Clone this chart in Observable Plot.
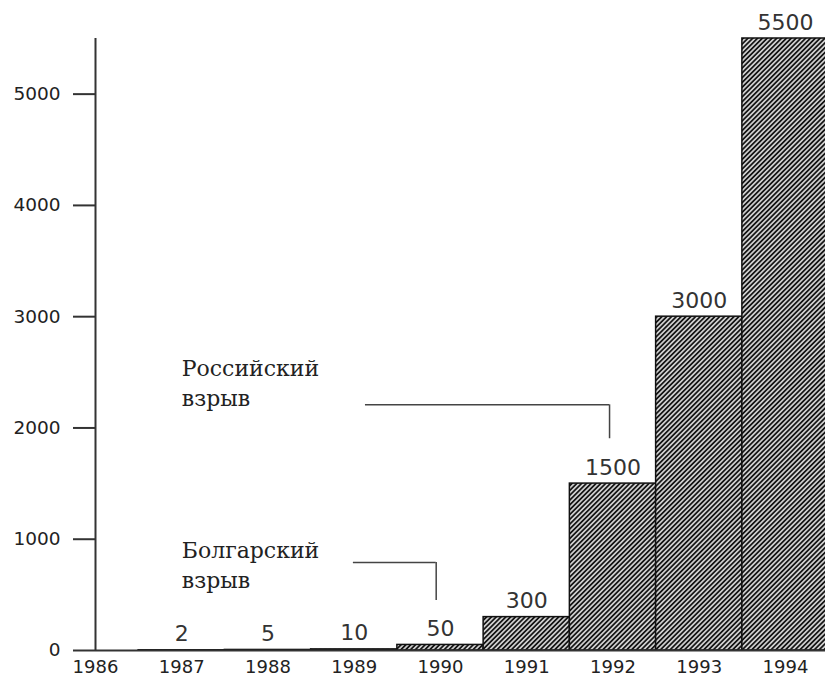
<!DOCTYPE html>
<html>
<head>
<meta charset="utf-8">
<script src="https://cdn.jsdelivr.net/npm/d3@7"></script>
<script src="https://cdn.jsdelivr.net/npm/@observablehq/plot@0.6"></script>
<style>
  html, body { margin: 0; padding: 0; background: #ffffff; }
  #chart { width: 825px; height: 677px; overflow: hidden; }
</style>
</head>
<body>
<div id="chart"></div>
<script>
// ---- data ----
const years = [1986, 1987, 1988, 1989, 1990, 1991, 1992, 1993, 1994];
const barYears = [1987, 1988, 1989, 1990, 1991, 1992, 1993, 1994];
const barValues = [2, 5, 10, 50, 300, 1500, 3000, 5500];
const yTicks = [0, 1000, 2000, 3000, 4000, 5000];

// annotations (data units)
const noteLabels = ["Российский\nвзрыв", "Болгарский\nвзрыв"];
const noteX = [1987, 1987];
const noteY = [2199, 565];
const leaderX1 = [1989.13, 1988.99];
const leaderX2 = [1991.96, 1989.95];
const leaderY = [2208, 790];
const leaderYEnd = [1903, 449];

const bars = barYears.map((year, i) => ({year, value: barValues[i]}));
const notes = noteLabels.map((label, i) => ({label, x: noteX[i], y: noteY[i]}));
const leaders = noteLabels.map((label, i) => ({x1: leaderX1[i], x2: leaderX2[i], y: leaderY[i], yEnd: leaderYEnd[i]}));

const yMax = d3.max(barValues);
const xFirst = d3.min(years), xLast = d3.max(years);

const chart = Plot.plot({
  width: 825,
  height: 677,
  marginLeft: 95,
  marginRight: 40,
  marginTop: 38,
  marginBottom: 27,
  style: {fontFamily: "DejaVu Sans", background: "#ffffff", color: "#222"},
  x: {domain: [xFirst, xLast]},
  y: {domain: [0, yMax]},
  marks: [
    Plot.rect(bars, {
      x1: d => d.year - 0.5,
      x2: d => d.year + 0.5,
      y1: 0,
      y2: "value",
      fill: "url(#hatch)",
      stroke: "#111",
      strokeWidth: 1.5
    }),
    Plot.ruleX([xFirst], {y1: 0, y2: yMax, stroke: "#333", strokeWidth: 2}),
    Plot.ruleY([0], {x1: xFirst, x2: xLast + 0.5, stroke: "#333", strokeWidth: 2}),
    Plot.axisY({
      ticks: yTicks,
      tickSize: 22,
      tickPadding: 13,
      fontSize: 18.5,
      tickFormat: "d",
      stroke: "#333",
      strokeWidth: 2,
      label: null
    }),
    Plot.axisX({
      ticks: years,
      tickSize: 0,
      tickPadding: 10,
      fontSize: 18,
      tickFormat: "d",
      label: null
    }),
    Plot.text(bars, {
      x: "year",
      y: "value",
      text: d => String(d.value),
      dy: -9,
      lineAnchor: "bottom",
      fontSize: 22,
      fill: "#333"
    }),
    Plot.ruleY(leaders, {x1: "x1", x2: "x2", y: "y", stroke: "#444", strokeWidth: 1.5}),
    Plot.ruleX(leaders, {x: "x2", y1: "y", y2: "yEnd", stroke: "#444", strokeWidth: 1.5}),
    Plot.text(notes, {
      x: "x",
      y: "y",
      text: "label",
      textAnchor: "start",
      lineAnchor: "bottom",
      lineHeight: 1.35,
      fontFamily: "DejaVu Serif",
      fontSize: 22,
      fill: "#222"
    })
  ]
});

const svg = d3.select(chart);
const defs = svg.insert("defs", ":first-child");
const P = 3.4;
const pat = defs.append("pattern")
  .attr("id", "hatch")
  .attr("patternUnits", "userSpaceOnUse")
  .attr("width", P)
  .attr("height", P)
  .attr("patternTransform", "rotate(45)");
pat.append("rect").attr("width", P).attr("height", P).attr("fill", "#d8d8d8");
pat.append("line").attr("x1", P / 2).attr("y1", 0).attr("x2", P / 2).attr("y2", P)
  .attr("stroke", "#151515").attr("stroke-width", 1.8);

document.getElementById("chart").appendChild(chart);
</script>
</body>
</html>
